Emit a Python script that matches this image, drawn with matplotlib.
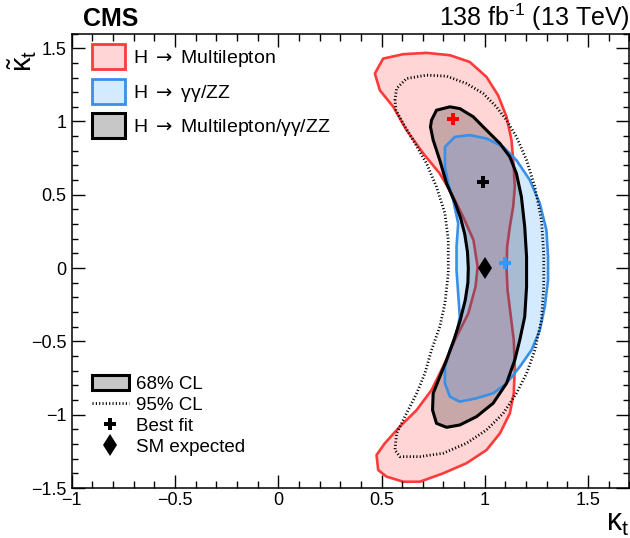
import matplotlib
matplotlib.use('Agg')
import matplotlib.pyplot as plt
from matplotlib.patches import Patch
from matplotlib.lines import Line2D
from matplotlib.ticker import MultipleLocator

plt.rcParams['font.family'] = ['Liberation Sans', 'DejaVu Sans']
plt.rcParams['mathtext.fontset'] = 'custom'
plt.rcParams['mathtext.rm'] = 'Liberation Sans'
plt.rcParams['mathtext.it'] = 'Liberation Sans:italic'
plt.rcParams['mathtext.bf'] = 'Liberation Sans:bold'
plt.rcParams['mathtext.sf'] = 'DejaVu Sans'

# ---------------- data ----------------
# H -> Multilepton, 68% CL contour
red68_x = [0.468, 0.508, 0.605, 0.718, 0.831, 0.927, 1.008, 1.064, 1.105, 1.129, 1.140, 1.145,
           1.137, 1.121, 1.108, 1.105, 1.110, 1.124, 1.140, 1.145, 1.140, 1.121, 1.073, 1.008,
           0.911, 0.798, 0.686, 0.605, 0.524, 0.484, 0.476, 0.516, 0.589, 0.670, 0.742, 0.798,
           0.855, 0.920, 0.955, 0.965, 0.945, 0.895, 0.839, 0.782, 0.702, 0.621, 0.557, 0.492]
red68_y = [1.327, 1.429, 1.459, 1.468, 1.452, 1.406, 1.304, 1.179, 1.032, 0.873, 0.691, 0.554,
           0.418, 0.282, 0.145, -0.002, -0.150, -0.309, -0.491, -0.673, -0.854, -0.991, -1.127, -1.241,
           -1.331, -1.400, -1.457, -1.457, -1.422, -1.377, -1.275, -1.195, -1.081, -0.968, -0.832, -0.673,
           -0.491, -0.309, -0.127, 0.009, 0.191, 0.350, 0.509, 0.645, 0.782, 0.941, 1.100, 1.213]

# H -> gamma gamma / ZZ, 68% CL contour
blue68_x = [0.807, 0.855, 0.927, 1.008, 1.089, 1.153, 1.218, 1.266, 1.298, 1.306, 1.306, 1.290,
            1.266, 1.226, 1.169, 1.105, 1.040, 0.960, 0.879, 0.831, 0.807, 0.807, 0.831, 0.863,
            0.879, 0.871, 0.863, 0.863, 0.871, 0.847, 0.823, 0.807]
blue68_y = [0.827, 0.895, 0.907, 0.884, 0.827, 0.736, 0.600, 0.441, 0.259, 0.077, -0.082, -0.264,
            -0.423, -0.559, -0.673, -0.786, -0.854, -0.888, -0.911, -0.877, -0.786, -0.673, -0.559, -0.445,
            -0.332, -0.173, -0.014, 0.145, 0.305, 0.464, 0.577, 0.691]

# Combination, 68% CL contour
comb68_x = [0.742, 0.766, 0.831, 0.879, 0.944, 1.008, 1.073, 1.121, 1.153, 1.177, 1.193, 1.202,
            1.202, 1.193, 1.169, 1.145, 1.105, 1.040, 0.960, 0.879, 0.815, 0.766, 0.747, 0.750,
            0.782, 0.815, 0.850, 0.880, 0.905, 0.918, 0.920, 0.916, 0.903, 0.883, 0.858, 0.815,
            0.782, 0.750, 0.737]
comb68_y = [1.009, 1.077, 1.100, 1.088, 1.032, 0.941, 0.850, 0.759, 0.645, 0.486, 0.282, 0.077,
            -0.127, -0.332, -0.491, -0.627, -0.786, -0.922, -1.013, -1.070, -1.086, -1.059, -0.968, -0.854,
            -0.741, -0.627, -0.491, -0.360, -0.220, -0.100, 0.000, 0.110, 0.230, 0.340, 0.440, 0.577,
            0.736, 0.873, 0.963]

# Combination, 95% CL contour
comb95_x = [0.565, 0.573, 0.621, 0.718, 0.815, 0.911, 0.992, 1.056, 1.105, 1.153, 1.202, 1.242,
            1.274, 1.285, 1.285, 1.274, 1.242, 1.202, 1.153, 1.089, 1.008, 0.911, 0.798, 0.686,
            0.589, 0.565, 0.573, 0.621, 0.670, 0.710, 0.742, 0.782, 0.807, 0.823, 0.823, 0.807,
            0.766, 0.718, 0.653, 0.605, 0.570]
comb95_y = [1.145, 1.225, 1.293, 1.316, 1.309, 1.259, 1.191, 1.100, 1.009, 0.895, 0.736, 0.554,
            0.327, 0.100, -0.127, -0.354, -0.559, -0.718, -0.854, -0.991, -1.104, -1.195, -1.263, -1.286,
            -1.286, -1.241, -1.127, -0.991, -0.854, -0.718, -0.559, -0.400, -0.241, -0.036, 0.191, 0.373,
            0.554, 0.714, 0.873, 0.986, 1.077]

# best-fit points and SM expectation
bf_red = (0.844, 1.016)
bf_comb = (0.992, 0.588)
bf_blue = (1.100, 0.032)
sm_point = (1.0, 0.0)

legend_labels = [r'H $\mathsf{\rightarrow}$ Multilepton', r'H $\mathsf{\rightarrow}$ γγ/ZZ',
                 r'H $\mathsf{\rightarrow}$ Multilepton/γγ/ZZ']
legend2_labels = ['68% CL', '95% CL', 'Best fit', 'SM expected']

# ---------------- style ----------------
red_line = '#ff3a3a'
red_fill = (1.0, 0.0, 0.0, 0.165)
blue_line = '#3a8fe6'
blue_fill = (0.118, 0.565, 1.0, 0.19)
grey_fill = (0.094, 0.094, 0.094, 0.24)

fig = plt.figure(figsize=(6.3, 5.38), dpi=100)
ax = fig.add_axes([0.1135, 0.0929, 0.8857, 0.8448])

ax.fill(red68_x, red68_y, facecolor=red_fill, edgecolor=red_line, lw=1.9,
        joinstyle='round', zorder=1)
ax.fill(comb68_x, comb68_y, facecolor=grey_fill, edgecolor='none', zorder=2)
ax.fill(blue68_x, blue68_y, facecolor=blue_fill, edgecolor=blue_line, lw=1.9,
        joinstyle='round', zorder=3)
ax.fill(comb68_x, comb68_y, facecolor='none', edgecolor='black', lw=2.2,
        joinstyle='round', zorder=4)
ax.plot(comb95_x + comb95_x[:1], comb95_y + comb95_y[:1], color='black', lw=2.0,
        linestyle=(0, (0.4, 0.8)), zorder=5)

ax.plot([bf_red[0]], [bf_red[1]], marker='P', ms=9, mew=0, color='#ff0000', zorder=6)
ax.plot([bf_comb[0]], [bf_comb[1]], marker='P', ms=9, mew=0, color='black', zorder=6)
ax.plot([bf_blue[0]], [bf_blue[1]], marker='P', ms=9, mew=0, color='#3399ff', zorder=6)
ax.plot([sm_point[0]], [sm_point[1]], marker='d', ms=11.5, mew=0, color='black', zorder=6)

ax.set_xlim(-1, 1.7)
ax.set_ylim(-1.5, 1.6)
ax.xaxis.set_major_locator(MultipleLocator(0.5))
ax.xaxis.set_minor_locator(MultipleLocator(0.1))
ax.yaxis.set_major_locator(MultipleLocator(0.5))
ax.yaxis.set_minor_locator(MultipleLocator(0.1))
ax.tick_params(which='both', direction='in', top=True, right=True, labelsize=13, width=1.0)
ax.tick_params(axis='x', which='major', length=9.7, pad=3)
ax.tick_params(axis='x', which='minor', length=4.8)
ax.tick_params(axis='y', which='major', length=9.6, pad=3.5)
ax.tick_params(axis='y', which='minor', length=4.6)
for s in ax.spines.values():
    s.set_linewidth(1.1)

def fmt(v, pos=None):
    s = ('%g' % v)
    return s.replace('-', '\u2212')
ax.xaxis.set_major_formatter(plt.FuncFormatter(fmt))
ax.yaxis.set_major_formatter(plt.FuncFormatter(fmt))

ax.set_xlabel(r'$\mathrm{\kappa}_{\mathrm{t}}$', fontsize=22, loc='right')
ax.xaxis.set_label_coords(0.999, -0.045)
ax.text(-0.088, 0.965, r'$\tilde{\mathrm{\kappa}}_{\mathrm{t}}$', transform=ax.transAxes,
        fontsize=21, rotation=90, ha='center', va='top')

ax.text(0.020, 1.0165, 'CMS', transform=ax.transAxes, fontsize=18, fontweight='bold',
        ha='left', va='baseline')
ax.text(1.0, 1.0165, '138 fb$^{\u2010\\mathregular{1}}$ (13 TeV)', transform=ax.transAxes,
        fontsize=18, ha='right', va='baseline')

h1 = [Patch(facecolor=red_fill, edgecolor=red_line, lw=2.0),
      Patch(facecolor=blue_fill, edgecolor=blue_line, lw=2.0),
      Patch(facecolor=grey_fill, edgecolor='black', lw=2.2)]
leg1 = ax.legend(h1, legend_labels, loc='upper left', bbox_to_anchor=(0.0367, 0.977),
                 frameon=False, fontsize=14, borderpad=0, borderaxespad=0,
                 handlelength=1.7, handleheight=1.6, handletextpad=0.4, labelspacing=0.5)
ax.add_artist(leg1)

h2 = [Patch(facecolor=grey_fill, edgecolor='black', lw=2.2),
      Line2D([], [], color='black', lw=2.0, linestyle=(0, (0.4, 0.8))),
      Line2D([], [], color='black', marker='P', ms=9, mew=0, linestyle='none'),
      Line2D([], [], color='black', marker='d', ms=11.5, mew=0, linestyle='none')]
ax.legend(h2, legend2_labels, loc='upper left', bbox_to_anchor=(0.0367, 0.249),
          frameon=False, fontsize=13.5, borderpad=0, borderaxespad=0,
          handlelength=1.95, handleheight=0.85, handletextpad=0.4, labelspacing=0.16)

fig.savefig('out.png', dpi=100)
